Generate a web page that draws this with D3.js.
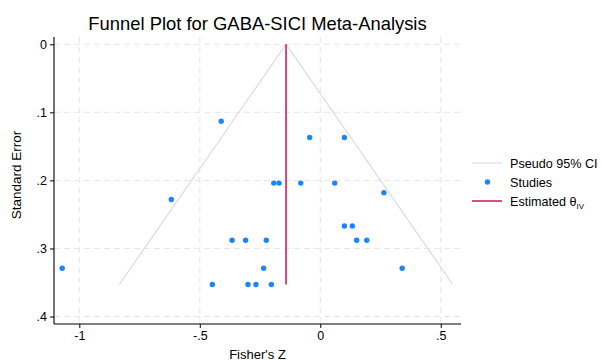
<!DOCTYPE html>
<html>
<head>
<meta charset="utf-8">
<script src="https://cdn.jsdelivr.net/npm/d3@7"></script>
<style>
    body { margin: 0; background: #fff; }
    text { font-family: "Liberation Sans", Arial, Helvetica, sans-serif; fill: #000; }
</style>
</head>
<body>
<div id="chart"></div>
<script>
// study effect sizes (Fisher's Z) and their standard errors
var fisherZ = [-0.411, -0.044, 0.100, -0.193, -0.171, -0.081, 0.060, -0.618, 0.264, 0.100,
    0.133, -0.366, -0.310, -0.224, 0.151, 0.193, -1.071, -0.235, 0.340, -0.448,
    -0.300, -0.267, -0.203];
var stdErr = [0.113, 0.137, 0.137, 0.204, 0.204, 0.204, 0.204, 0.228, 0.218, 0.267,
    0.267, 0.288, 0.288, 0.288, 0.288, 0.288, 0.329, 0.329, 0.329, 0.353,
    0.353, 0.353, 0.353];
var thetaIV = -0.142;
var xTicks = [-1, -0.5, 0, 0.5];
var xTickLabels = ["-1", "-.5", "0", ".5"];
var yTicks = [0, 0.1, 0.2, 0.3, 0.4];
var yTickLabels = ["0", ".1", ".2", ".3", ".4"];
var legendLabels = ["Pseudo 95% CI", "Studies", "Estimated θ"];

var chart_width = 601;
var chart_height = 360;
var plotLeft = 54, plotRight = 461, plotTop = 37, plotBottom = 324;

var svg = d3.select("#chart")
        .append("svg")
        .attr("width", chart_width)
        .attr("height", chart_height);

//Scales
var x = d3.scaleLinear().domain([-1.105, 0.584]).range([plotLeft, plotRight]);
var y = d3.scaleLinear().domain([-0.0107, 0.411]).range([plotTop, plotBottom]);

//Grid
svg.selectAll("line.vgrid")
        .data(xTicks)
        .enter()
        .append("line")
        .attr("x1", function (d) { return x(d); })
        .attr("x2", function (d) { return x(d); })
        .attr("y1", plotTop)
        .attr("y2", plotBottom)
        .attr("stroke", "#e6e6e6")
        .attr("stroke-dasharray", "6,4");
svg.selectAll("line.hgrid")
        .data(yTicks)
        .enter()
        .append("line")
        .attr("x1", plotLeft)
        .attr("x2", plotRight)
        .attr("y1", function (d) { return y(d); })
        .attr("y2", function (d) { return y(d); })
        .attr("stroke", "#e6e6e6")
        .attr("stroke-dasharray", "6,4");

//Funnel (pseudo 95% CI)
var seMax = d3.max(stdErr);
var funnel = [[thetaIV - 1.96 * seMax, seMax], [thetaIV, 0], [thetaIV + 1.96 * seMax, seMax]];
svg.append("path")
        .datum(funnel)
        .attr("fill", "none")
        .attr("stroke", "#d9d9d9")
        .attr("stroke-width", 1.1)
        .attr("d", d3.line()
                .x(function (d) { return x(d[0]); })
                .y(function (d) { return y(d[1]); }));

//Estimated theta
svg.append("line")
        .attr("x1", x(thetaIV))
        .attr("x2", x(thetaIV))
        .attr("y1", y(0))
        .attr("y2", y(seMax))
        .attr("stroke", "#d41159")
        .attr("stroke-opacity", 0.85)
        .attr("stroke-width", 1.8);

//Studies
svg.selectAll("circle.study")
        .data(fisherZ)
        .enter()
        .append("circle")
        .attr("cx", function (d) { return x(d); })
        .attr("cy", function (d, i) { return y(stdErr[i]); })
        .attr("r", 2.7)
        .attr("fill", "#1a85ff");

//Axes
var xAxis = d3.axisBottom(x).tickValues(xTicks).tickSize(4).tickPadding(3)
        .tickFormat(function (d, i) { return xTickLabels[i]; });
var yAxis = d3.axisLeft(y).tickValues(yTicks).tickSize(4).tickPadding(3)
        .tickFormat(function (d, i) { return yTickLabels[i]; });
var gx = svg.append("g").attr("transform", "translate(0," + plotBottom + ")").call(xAxis);
var gy = svg.append("g").attr("transform", "translate(" + plotLeft + ",0)").call(yAxis);
[gx, gy].forEach(function (g) {
    g.select(".domain").attr("stroke", "#000").attr("stroke-width", 1.1);
    g.selectAll(".tick line").attr("stroke", "#000");
    g.selectAll(".tick text").style("font-size", "12.5px").attr("fill", "#000");
});
gx.select(".domain").attr("d", "M" + plotLeft + ",0H" + plotRight);
gy.select(".domain").attr("d", "M0," + plotTop + "V" + plotBottom);

//Titles
svg.append("text")
        .attr("x", (plotLeft + plotRight) / 2)
        .attr("y", 30)
        .attr("text-anchor", "middle")
        .style("font-size", "18.4px")
        .text("Funnel Plot for GABA-SICI Meta-Analysis");
svg.append("text")
        .attr("x", (plotLeft + plotRight) / 2)
        .attr("y", 359)
        .attr("text-anchor", "middle")
        .style("font-size", "13px")
        .text("Fisher's Z");
svg.append("text")
        .attr("transform", "translate(21," + 175 + ") rotate(-90)")
        .attr("text-anchor", "middle")
        .style("font-size", "13.5px")
        .text("Standard Error");

// define legend
var legend = svg.append("g").attr("transform", "translate(472,163)");
legendLabels.forEach(function (label, i) {
    var legendRow = legend.append("g")
            .attr("transform", "translate(0," + (i * 19) + ")");
    if (i == 0) {
        legendRow.append("line").attr("x1", 0).attr("x2", 30).attr("y1", 0).attr("y2", 0)
                .attr("stroke", "#d9d9d9").attr("stroke-width", 1.1);
    } else if (i == 1) {
        legendRow.append("circle").attr("cx", 15.5).attr("cy", 0).attr("r", 2.7)
                .attr("fill", "#1a85ff");
    } else {
        legendRow.append("line").attr("x1", 0).attr("x2", 30).attr("y1", 0).attr("y2", 0)
                .attr("stroke", "#d41159").attr("stroke-width", 1.5);
    }
    var t = legendRow.append("text")
            .attr("x", 38)
            .attr("y", 4.5)
            .style("font-size", "12.6px")
            .text(label);
    if (i == 2) {
        t.append("tspan").attr("dy", 3).style("font-size", "8px").text("IV");
    }
});
</script>
</body>
</html>
